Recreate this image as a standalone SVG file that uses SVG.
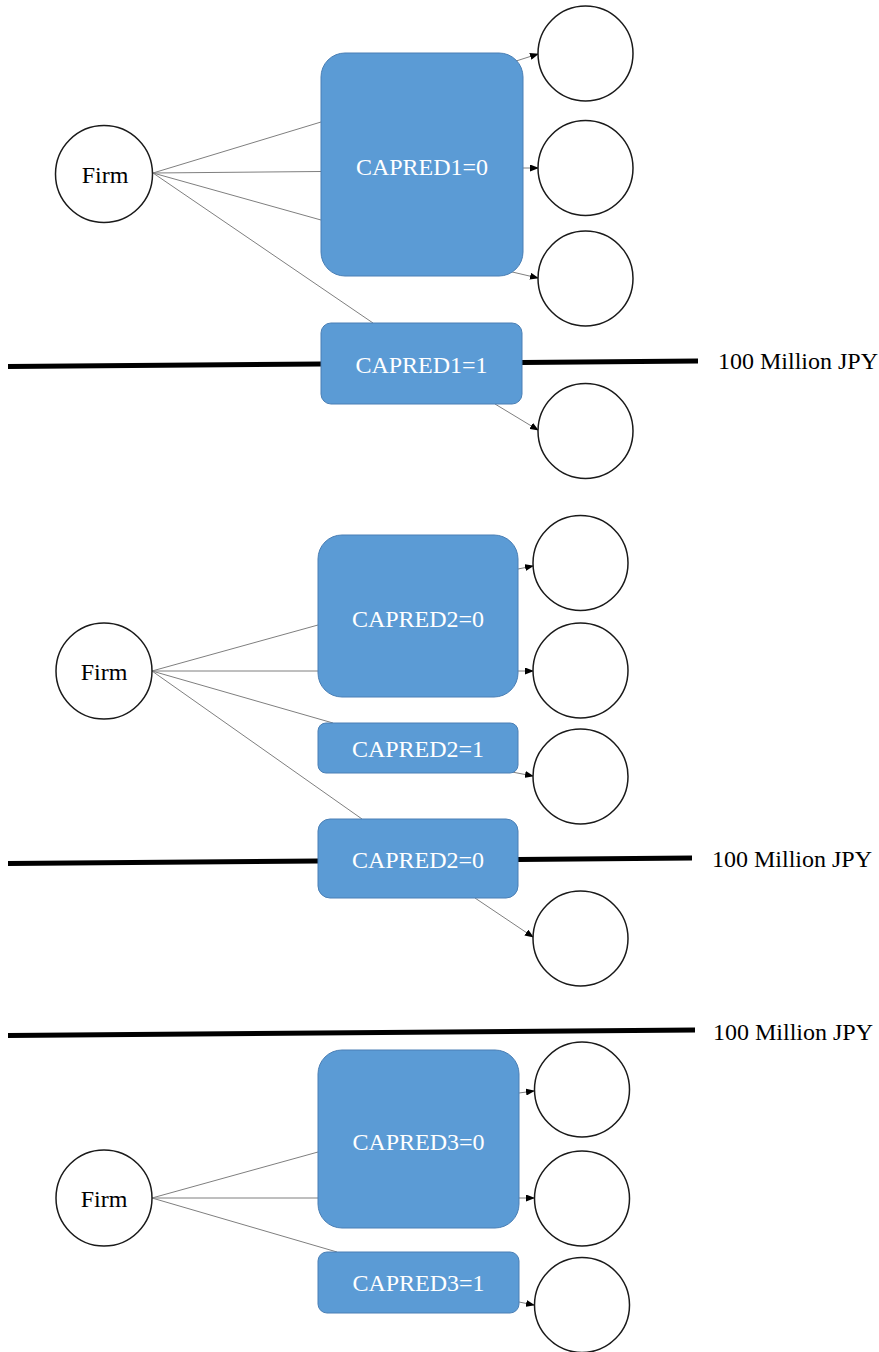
<svg xmlns="http://www.w3.org/2000/svg" width="879" height="1352" viewBox="0 0 879 1352">
<style>
.box{fill:#5b9bd5;stroke:#4a7fb5;stroke-width:1}
.btxt{font-family:"Liberation Serif","Times New Roman",serif;font-size:24px;fill:#ffffff;text-anchor:middle}
.txt{font-family:"Liberation Serif","Times New Roman",serif;font-size:24px;fill:#000000}
.circ{fill:#ffffff;stroke:#1a1a1a;stroke-width:1.5}
.edge{stroke:#7f7f7f;stroke-width:1;fill:none}
.arrow{stroke:#7f7f7f;stroke-width:1;fill:none;marker-end:url(#ah)}
.thick{stroke:#000000;stroke-width:5;fill:none}
</style>
<defs>
<marker id="ah" markerUnits="userSpaceOnUse" markerWidth="9" markerHeight="7" refX="8" refY="3.5" orient="auto">
<path d="M0,0 L9,3.5 L0,7 z" fill="#000"/>
</marker>
</defs>

<g id="thresholds">
<line class="thick" x1="8" y1="366.5" x2="321" y2="364"/>
<line class="thick" x1="522" y1="362.5" x2="698" y2="361"/>
<text class="txt" x="718" y="369">100 Million JPY</text>
<line class="thick" x1="8" y1="863.5" x2="318" y2="861"/>
<line class="thick" x1="518" y1="859.5" x2="692" y2="858"/>
<text class="txt" x="712" y="867">100 Million JPY</text>
<line class="thick" x1="8" y1="1035.5" x2="695" y2="1030"/>
<text class="txt" x="713" y="1040">100 Million JPY</text>
</g>

<g id="connectors">
<line class="edge" x1="153" y1="173" x2="321" y2="122"/>
<line class="edge" x1="153" y1="173" x2="321" y2="171.5"/>
<line class="edge" x1="153" y1="173" x2="321" y2="220"/>
<line class="edge" x1="153" y1="173" x2="373" y2="323"/>
<line class="arrow" x1="513" y1="62" x2="538" y2="54"/>
<line class="arrow" x1="523" y1="168" x2="538" y2="168"/>
<line class="arrow" x1="508" y1="271" x2="538" y2="278"/>
<line class="arrow" x1="495" y1="404" x2="538" y2="430"/>

<line class="edge" x1="152" y1="671" x2="318" y2="625"/>
<line class="edge" x1="152" y1="671" x2="318" y2="671"/>
<line class="edge" x1="152" y1="671" x2="333" y2="723"/>
<line class="edge" x1="152" y1="671" x2="362" y2="819"/>
<line class="arrow" x1="518" y1="569" x2="533" y2="566"/>
<line class="arrow" x1="518" y1="671" x2="533" y2="671"/>
<line class="arrow" x1="512" y1="772" x2="533" y2="776"/>
<line class="arrow" x1="475" y1="898" x2="533" y2="937"/>

<line class="edge" x1="152" y1="1198" x2="318" y2="1152"/>
<line class="edge" x1="152" y1="1198" x2="318" y2="1198"/>
<line class="edge" x1="152" y1="1198" x2="337" y2="1252"/>
<line class="arrow" x1="519" y1="1093" x2="534" y2="1091"/>
<line class="arrow" x1="519" y1="1198" x2="534" y2="1198"/>
<line class="arrow" x1="519" y1="1302" x2="534" y2="1305"/>
</g>

<g id="firm1"><circle class="circ" cx="104" cy="174" r="48.5"/><text class="txt" x="105" y="182.5" text-anchor="middle">Firm</text></g>
<g id="capred1_0"><rect class="box" x="321" y="53" width="202" height="223" rx="24"/><text class="btxt" x="422" y="175">CAPRED1=0</text></g>
<g id="capred1_1"><rect class="box" x="321" y="323" width="201" height="81" rx="10"/><text class="btxt" x="421.5" y="373">CAPRED1=1</text></g>
<g id="out1a"><circle class="circ" cx="585.5" cy="53.5" r="47.5"/></g>
<g id="out1b"><circle class="circ" cx="585.5" cy="168" r="47.5"/></g>
<g id="out1c"><circle class="circ" cx="585.5" cy="278.5" r="47.5"/></g>
<g id="out1d"><circle class="circ" cx="585.5" cy="431" r="47.5"/></g>

<g id="firm2"><circle class="circ" cx="104" cy="671" r="48"/><text class="txt" x="104" y="680" text-anchor="middle">Firm</text></g>
<g id="capred2_0a"><rect class="box" x="318" y="535" width="200" height="162" rx="24"/><text class="btxt" x="418" y="627">CAPRED2=0</text></g>
<g id="capred2_1"><rect class="box" x="318" y="723" width="200" height="50" rx="8"/><text class="btxt" x="418" y="757">CAPRED2=1</text></g>
<g id="capred2_0b"><rect class="box" x="318" y="819" width="200" height="79" rx="12"/><text class="btxt" x="418" y="868">CAPRED2=0</text></g>
<g id="out2a"><circle class="circ" cx="580.5" cy="563" r="47.5"/></g>
<g id="out2b"><circle class="circ" cx="580.5" cy="670.5" r="47.5"/></g>
<g id="out2c"><circle class="circ" cx="580.5" cy="776.5" r="47.5"/></g>
<g id="out2d"><circle class="circ" cx="580.5" cy="938.5" r="47.5"/></g>

<g id="firm3"><circle class="circ" cx="104" cy="1198" r="48"/><text class="txt" x="104" y="1207" text-anchor="middle">Firm</text></g>
<g id="capred3_0"><rect class="box" x="318" y="1050" width="201" height="178" rx="24"/><text class="btxt" x="418.5" y="1150">CAPRED3=0</text></g>
<g id="capred3_1"><rect class="box" x="318" y="1252" width="201" height="61" rx="9"/><text class="btxt" x="418.5" y="1291">CAPRED3=1</text></g>
<g id="out3a"><circle class="circ" cx="582" cy="1089.5" r="47.5"/></g>
<g id="out3b"><circle class="circ" cx="582" cy="1198.5" r="47.5"/></g>
<g id="out3c"><circle class="circ" cx="582" cy="1305" r="47.5"/></g>
</svg>
